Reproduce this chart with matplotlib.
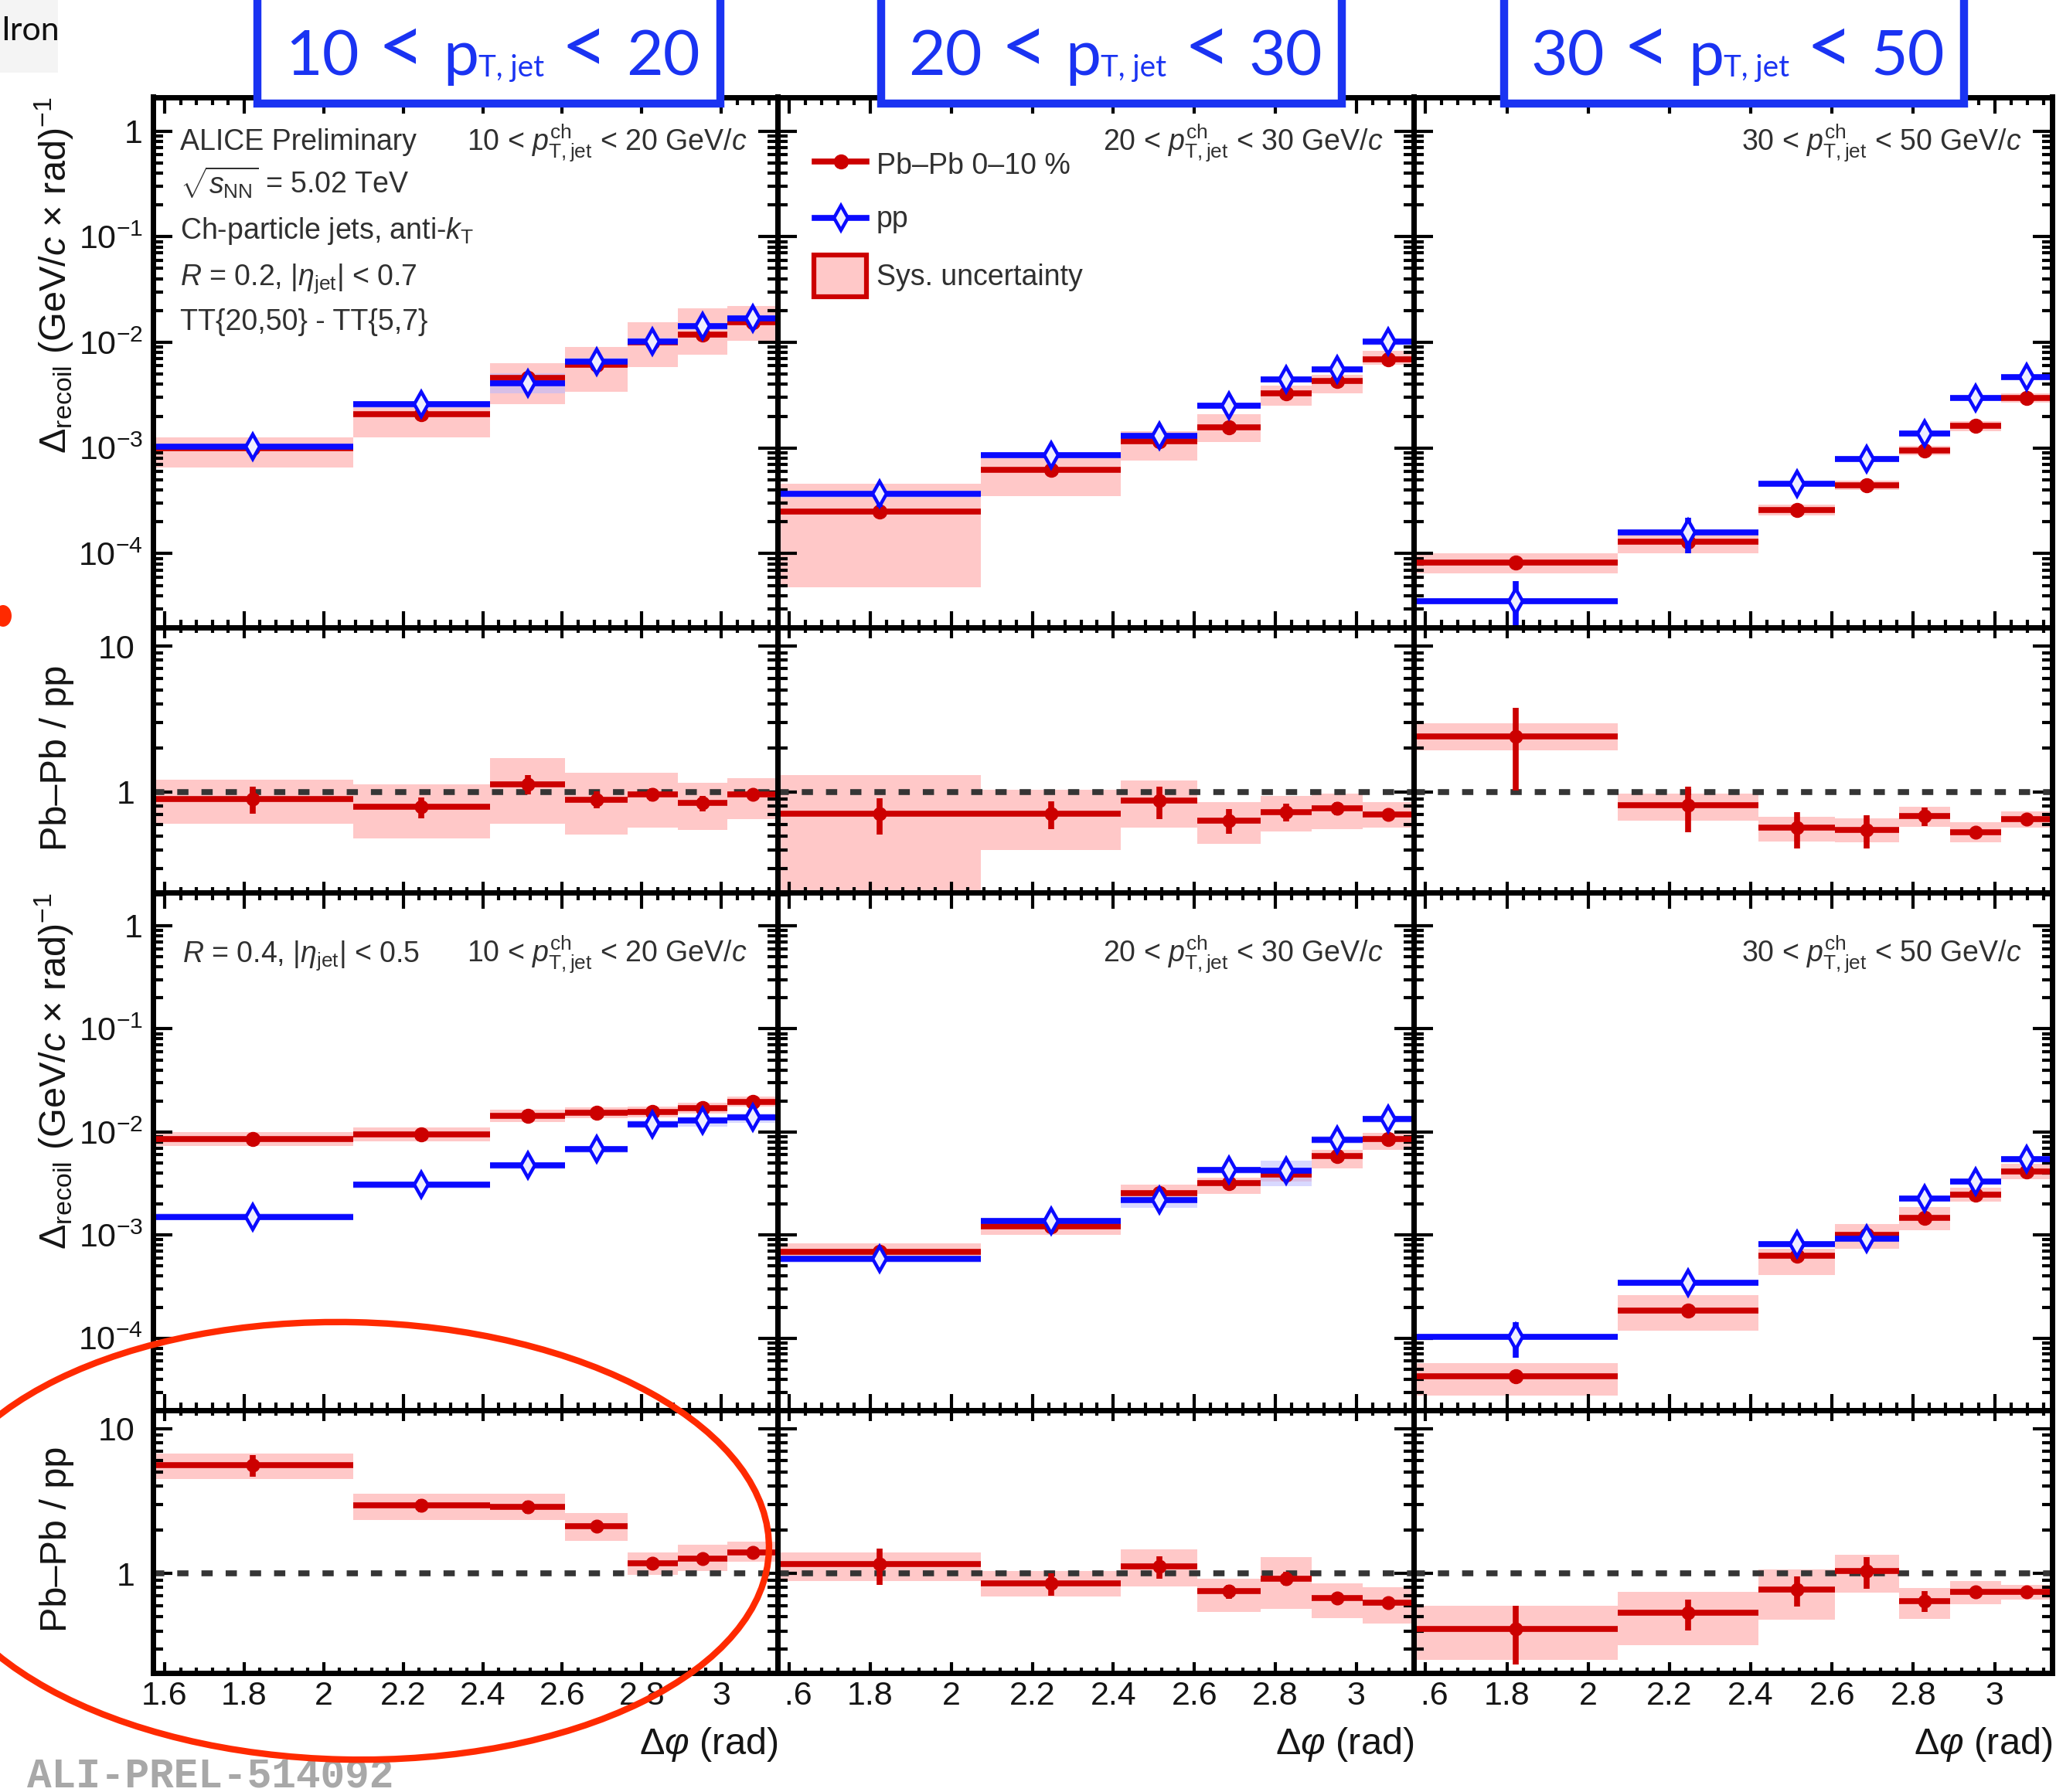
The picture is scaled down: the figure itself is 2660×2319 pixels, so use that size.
import numpy as np
import matplotlib
matplotlib.use("Agg")
import matplotlib.pyplot as plt
from matplotlib.patches import Rectangle, Ellipse
from matplotlib.lines import Line2D
from matplotlib.transforms import Bbox, blended_transform_factory
from matplotlib.ticker import FixedLocator, FixedFormatter, MultipleLocator, NullFormatter, LogLocator

plt.rcParams['font.family'] = ['Liberation Sans', 'DejaVu Sans']
plt.rcParams['mathtext.fontset'] = 'custom'
plt.rcParams['mathtext.rm'] = 'Liberation Sans'
plt.rcParams['mathtext.it'] = 'Liberation Sans:italic'
plt.rcParams['mathtext.bf'] = 'Liberation Sans:bold'
plt.rcParams['mathtext.sf'] = 'Liberation Sans'

# ---------------------------------------------------------------- data
# delta-phi bin edges in units of pi
dphi_edges_over_pi = [0.5, 0.66, 0.77, 0.83, 0.88, 0.92, 0.96, 1.0]
pt_ranges = [(10, 20), (20, 30), (30, 50)]
xtick_values = [1.6, 1.8, 2.0, 2.2, 2.4, 2.6, 2.8, 3.0]
xtick_labels = ['1.6', '1.8', '2', '2.2', '2.4', '2.6', '2.8', '3']
main_ytick_values = [1e-4, 1e-3, 1e-2, 1e-1, 1.0]
main_ytick_labels = [r'$10^{-4}$', r'$10^{-3}$', r'$10^{-2}$', r'$10^{-1}$', '1']
ratio_ytick_values = [1.0, 10.0]
ratio_ytick_labels = ['1', '10']

# ---- R = 0.2, 10-20 GeV/c
pbpb_r02_pt1 = [1.00e-3, 2.1e-3, 4.6e-3, 6.1e-3, 1.0e-2, 1.18e-2, 1.55e-2]
pbpb_r02_pt1_stat = [4e-5, 1e-4, 3e-4, 3e-4, 4e-4, 5e-4, 7e-4]
pbpb_r02_pt1_sys_lo = [6.5e-4, 1.25e-3, 2.6e-3, 3.4e-3, 5.8e-3, 7.6e-3, 1.03e-2]
pbpb_r02_pt1_sys_hi = [1.25e-3, 2.6e-3, 6.3e-3, 9.1e-3, 1.55e-2, 2.1e-2, 2.2e-2]
pp_r02_pt1 = [1.03e-3, 2.6e-3, 4.1e-3, 6.6e-3, 1.02e-2, 1.42e-2, 1.68e-2]
pp_r02_pt1_stat = [5e-5, 2e-4, 4e-4, 5e-4, 6e-4, 8e-4, 1e-3]
pp_r02_pt1_sys_lo = [0.95e-3, 2.4e-3, 3.3e-3, 6.1e-3, 9.4e-3, 1.31e-2, 1.55e-2]
pp_r02_pt1_sys_hi = [1.11e-3, 2.8e-3, 5.1e-3, 7.1e-3, 1.1e-2, 1.53e-2, 1.81e-2]
ratio_r02_pt1 = [0.90, 0.79, 1.13, 0.89, 0.96, 0.84, 0.96]
ratio_r02_pt1_stat = [0.19, 0.13, 0.17, 0.12, 0.10, 0.10, 0.08]
ratio_r02_pt1_sys_lo = [0.61, 0.48, 0.61, 0.51, 0.57, 0.55, 0.65]
ratio_r02_pt1_sys_hi = [1.22, 1.13, 1.70, 1.35, 1.35, 1.15, 1.25]

# ---- R = 0.2, 20-30 GeV/c
pbpb_r02_pt2 = [2.49e-4, 6.2e-4, 1.16e-3, 1.57e-3, 3.27e-3, 4.28e-3, 6.95e-3]
pbpb_r02_pt2_stat = [2e-5, 4e-5, 6e-5, 8e-5, 1.5e-4, 2e-4, 3e-4]
pbpb_r02_pt2_sys_lo = [4.8e-5, 3.5e-4, 7.6e-4, 1.13e-3, 2.5e-3, 3.27e-3, 6.1e-3]
pbpb_r02_pt2_sys_hi = [4.6e-4, 9.0e-4, 1.45e-3, 2.1e-3, 3.9e-3, 4.9e-3, 8.3e-3]
pp_r02_pt2 = [3.66e-4, 8.6e-4, 1.31e-3, 2.5e-3, 4.46e-3, 5.57e-3, 1.01e-2]
pp_r02_pt2_stat = [9e-5, 8e-5, 1.0e-4, 1.5e-4, 3e-4, 4e-4, 6e-4]
pp_r02_pt2_sys_lo = [3.4e-4, 8.0e-4, 1.22e-3, 2.33e-3, 4.15e-3, 5.2e-3, 9.4e-3]
pp_r02_pt2_sys_hi = [3.9e-4, 9.2e-4, 1.40e-3, 2.68e-3, 4.77e-3, 5.96e-3, 1.08e-2]
ratio_r02_pt2 = [0.71, 0.71, 0.875, 0.64, 0.73, 0.775, 0.70]
ratio_r02_pt2_stat = [0.20, 0.155, 0.22, 0.12, 0.10, 0.08, 0.06]
ratio_r02_pt2_sys_lo = [0.15, 0.40, 0.57, 0.44, 0.54, 0.56, 0.57]
ratio_r02_pt2_sys_hi = [1.30, 1.04, 1.20, 0.85, 0.94, 0.98, 0.85]

# ---- R = 0.2, 30-50 GeV/c
pbpb_r02_pt3 = [8.2e-5, 1.30e-4, 2.6e-4, 4.43e-4, 9.4e-4, 1.61e-3, 2.99e-3]
pbpb_r02_pt3_stat = [6e-6, 1.2e-5, 2e-5, 3e-5, 6e-5, 1e-4, 1.6e-4]
pbpb_r02_pt3_sys_lo = [6.5e-5, 1.0e-4, 2.3e-4, 4.0e-4, 8.5e-4, 1.45e-3, 2.7e-3]
pbpb_r02_pt3_sys_hi = [1.0e-4, 1.6e-4, 2.9e-4, 4.9e-4, 1.04e-3, 1.78e-3, 3.3e-3]
pp_r02_pt3 = [3.53e-5, 1.6e-4, 4.56e-4, 7.9e-4, 1.38e-3, 2.99e-3, 4.66e-3]
pp_r02_pt3_stat = [2.0e-5, 0.6e-4, 0.6e-4, 0.8e-4, 1.3e-4, 2.5e-4, 4e-4]
pp_r02_pt3_sys_lo = [3.3e-5, 1.5e-4, 4.3e-4, 7.4e-4, 1.3e-3, 2.8e-3, 4.4e-3]
pp_r02_pt3_sys_hi = [3.8e-5, 1.7e-4, 4.8e-4, 8.4e-4, 1.46e-3, 3.2e-3, 4.9e-3]
ratio_r02_pt3 = [2.41, 0.81, 0.57, 0.55, 0.687, 0.53, 0.654]
ratio_r02_pt3_stat = [1.38, 0.28, 0.16, 0.14, 0.10, 0.05, 0.06]
ratio_r02_pt3_sys_lo = [1.93, 0.64, 0.46, 0.45, 0.58, 0.45, 0.57]
ratio_r02_pt3_sys_hi = [2.97, 0.98, 0.68, 0.66, 0.79, 0.62, 0.74]

# ---- R = 0.4, 10-20 GeV/c
pbpb_r04_pt1 = [8.5e-3, 9.4e-3, 1.44e-2, 1.53e-2, 1.56e-2, 1.71e-2, 1.96e-2]
pbpb_r04_pt1_stat = [3e-4, 3e-4, 5e-4, 5e-4, 5e-4, 6e-4, 7e-4]
pbpb_r04_pt1_sys_lo = [7.3e-3, 8.1e-3, 1.25e-2, 1.35e-2, 1.38e-2, 1.52e-2, 1.75e-2]
pbpb_r04_pt1_sys_hi = [1.0e-2, 1.1e-2, 1.65e-2, 1.73e-2, 1.76e-2, 1.92e-2, 2.2e-2]
pp_r04_pt1 = [1.50e-3, 3.08e-3, 4.72e-3, 6.8e-3, 1.19e-2, 1.29e-2, 1.39e-2]
pp_r04_pt1_stat = [8e-5, 2e-4, 3e-4, 4e-4, 5e-4, 6e-4, 7e-4]
pp_r04_pt1_sys_lo = [1.39e-3, 2.85e-3, 4.35e-3, 6.3e-3, 1.08e-2, 1.13e-2, 1.22e-2]
pp_r04_pt1_sys_hi = [1.62e-3, 3.32e-3, 5.1e-3, 7.3e-3, 1.3e-2, 1.4e-2, 1.5e-2]
ratio_r04_pt1 = [5.59, 2.94, 2.88, 2.11, 1.17, 1.26, 1.40]
ratio_r04_pt1_stat = [0.95, 0.30, 0.30, 0.20, 0.10, 0.12, 0.12]
ratio_r04_pt1_sys_lo = [4.48, 2.34, 2.34, 1.68, 0.98, 1.04, 1.20]
ratio_r04_pt1_sys_hi = [6.74, 3.54, 3.54, 2.62, 1.39, 1.58, 1.65]

# ---- R = 0.4, 20-30 GeV/c
pbpb_r04_pt2 = [6.85e-4, 1.22e-3, 2.54e-3, 3.2e-3, 3.86e-3, 5.81e-3, 8.5e-3]
pbpb_r04_pt2_stat = [4e-5, 6e-5, 1.5e-4, 1.5e-4, 2e-4, 3e-4, 4e-4]
pbpb_r04_pt2_sys_lo = [5.7e-4, 1.0e-3, 2.1e-3, 2.5e-3, 3.3e-3, 4.4e-3, 6.7e-3]
pbpb_r04_pt2_sys_hi = [8.3e-4, 1.43e-3, 3.1e-3, 3.6e-3, 4.4e-3, 6.7e-3, 9.8e-3]
pp_r04_pt2 = [5.86e-4, 1.37e-3, 2.18e-3, 4.26e-3, 4.19e-3, 8.4e-3, 1.33e-2]
pp_r04_pt2_stat = [6e-5, 1e-4, 1.5e-4, 2.5e-4, 3e-4, 5e-4, 7e-4]
pp_r04_pt2_sys_lo = [5.4e-4, 1.26e-3, 1.85e-3, 3.9e-3, 3.0e-3, 7.7e-3, 1.22e-2]
pp_r04_pt2_sys_hi = [6.3e-4, 1.48e-3, 2.5e-3, 4.6e-3, 5.3e-3, 9.1e-3, 1.44e-2]
ratio_r04_pt2 = [1.155, 0.854, 1.12, 0.75, 0.92, 0.674, 0.628]
ratio_r04_pt2_stat = [0.32, 0.15, 0.20, 0.08, 0.10, 0.05, 0.05]
ratio_r04_pt2_sys_lo = [0.88, 0.69, 0.81, 0.54, 0.57, 0.49, 0.45]
ratio_r04_pt2_sys_hi = [1.39, 1.04, 1.46, 0.92, 1.29, 0.85, 0.80]

# ---- R = 0.4, 30-50 GeV/c
pbpb_r04_pt3 = [4.27e-5, 1.85e-4, 6.34e-4, 1.0e-3, 1.48e-3, 2.45e-3, 4.13e-3]
pbpb_r04_pt3_stat = [5e-6, 1.5e-5, 5e-5, 8e-5, 1e-4, 1.5e-4, 2.5e-4]
pbpb_r04_pt3_sys_lo = [2.8e-5, 1.18e-4, 4.1e-4, 7.4e-4, 1.12e-3, 2.1e-3, 3.5e-3]
pbpb_r04_pt3_sys_hi = [5.7e-5, 2.6e-4, 7.4e-4, 1.27e-3, 1.87e-3, 2.9e-3, 4.9e-3]
pp_r04_pt3 = [1.035e-4, 3.42e-4, 8.17e-4, 9.3e-4, 2.26e-3, 3.33e-3, 5.5e-3]
pp_r04_pt3_stat = [3.9e-5, 3.5e-5, 8e-5, 9e-5, 1.5e-4, 2e-4, 3e-4]
pp_r04_pt3_sys_lo = [9.7e-5, 3.2e-4, 7.7e-4, 8.7e-4, 2.12e-3, 3.13e-3, 5.2e-3]
pp_r04_pt3_sys_hi = [1.1e-4, 3.63e-4, 8.7e-4, 9.9e-4, 2.4e-3, 3.53e-3, 5.8e-3]
ratio_r04_pt3 = [0.415, 0.532, 0.773, 1.04, 0.647, 0.748, 0.745]
ratio_r04_pt3_stat = [0.18, 0.13, 0.18, 0.26, 0.105, 0.06, 0.05]
ratio_r04_pt3_sys_lo = [0.254, 0.32, 0.476, 0.735, 0.484, 0.61, 0.66]
ratio_r04_pt3_sys_hi = [0.595, 0.748, 1.07, 1.35, 0.795, 0.88, 0.83]

# ---------------------------------------------------------------- style
W, H = 2660, 2319
RED = '#cc0000'
BLUE = '#0a0aff'
PINK = '#ffc8c8'
LBLUE = '#b8b8ff'
TXT = '#303030'
HBLUE = '#1a33f2'

fig = plt.figure(figsize=(W / 100, H / 100), dpi=100)
fig.patch.set_facecolor('white')


def fx(x):
    return x / W


def fy(y):
    return 1 - y / H


COLS = [(198, 1006), (1006, 1829), (1829, 2655)]
ROWS = [(125.5, 812), (812, 1155), (1155, 1825), (1825, 2165)]
MAIN_YLIM = (2e-5, 2.1)
RATIO_YLIM = (0.205, 13.4)

edges = np.pi * np.array(dphi_edges_over_pi)
centers = 0.5 * (edges[1:] + edges[:-1])
widths = np.diff(edges)
halfw = widths / 2


def add_ax(col, row):
    x0, x1 = COLS[col]
    y0, y1 = ROWS[row]
    return fig.add_axes([fx(x0), fy(y1), (x1 - x0) / W, (y1 - y0) / H])


def style(ax, is_main, first_col):
    ax.set_xlim(np.pi / 2, np.pi)
    ax.set_yscale('log')
    ax.set_ylim(*(MAIN_YLIM if is_main else RATIO_YLIM))
    ax.xaxis.set_major_locator(MultipleLocator(0.2))
    ax.xaxis.set_minor_locator(MultipleLocator(0.04))
    if is_main:
        ax.yaxis.set_major_locator(FixedLocator(main_ytick_values))
        ax.yaxis.set_major_formatter(FixedFormatter(main_ytick_labels))
    else:
        ax.yaxis.set_major_locator(FixedLocator(ratio_ytick_values))
        ax.yaxis.set_major_formatter(FixedFormatter(ratio_ytick_labels))
    ax.yaxis.set_minor_locator(LogLocator(base=10, subs=np.arange(2, 10) * 1.0, numticks=50))
    ax.yaxis.set_minor_formatter(NullFormatter())
    ax.tick_params(which='both', direction='in', top=True, right=True, bottom=True, left=True,
                   labelbottom=False, labelleft=first_col, width=3, color='black',
                   labelsize=31, labelcolor='#151515')
    ax.tick_params(axis='y', which='major', length=18, pad=9.4 if is_main else 17)
    ax.tick_params(axis='y', which='minor', length=9.4)
    if is_main:
        ax.tick_params(axis='x', which='major', length=15)
        ax.tick_params(axis='x', which='minor', length=7.5)
    else:
        ax.tick_params(axis='x', which='major', length=10)
        ax.tick_params(axis='x', which='minor', length=5)
    for s in ax.spines.values():
        s.set_linewidth(5)
        s.set_zorder(6)


def draw_main(ax, pb, pb_stat, pb_lo, pb_hi, pp, pp_stat, pp_lo, pp_hi):
    ax.bar(centers, np.subtract(pb_hi, pb_lo), bottom=pb_lo, width=widths,
           color=PINK, lw=0, zorder=1)
    ax.bar(centers, np.subtract(pp_hi, pp_lo), bottom=pp_lo, width=widths,
           color=LBLUE, alpha=0.55, lw=0, zorder=1.2)
    ax.errorbar(centers, pb, xerr=halfw, yerr=pb_stat, fmt='o', color=RED, ms=13,
                elinewidth=5.5, capsize=0, zorder=3)
    ax.errorbar(centers, pp, xerr=halfw, yerr=pp_stat, fmt='d', color=BLUE, mfc='#eeeeff',
                mec=BLUE, mew=3.2, ms=16, elinewidth=5.5, capsize=0, zorder=4)


def draw_ratio(ax, r, r_stat, r_lo, r_hi):
    ax.bar(centers, np.subtract(r_hi, r_lo), bottom=r_lo, width=widths,
           color=PINK, lw=0, zorder=1)
    ax.axhline(1.0, color='#353535', lw=5.5, ls=(0, (1.9, 2.2)), zorder=2)
    ax.errorbar(centers, r, xerr=halfw, yerr=r_stat, fmt='o', color=RED, ms=12,
                elinewidth=5.5, capsize=0, zorder=3)


main_sets = [
    [(pbpb_r02_pt1, pbpb_r02_pt1_stat, pbpb_r02_pt1_sys_lo, pbpb_r02_pt1_sys_hi,
      pp_r02_pt1, pp_r02_pt1_stat, pp_r02_pt1_sys_lo, pp_r02_pt1_sys_hi),
     (pbpb_r02_pt2, pbpb_r02_pt2_stat, pbpb_r02_pt2_sys_lo, pbpb_r02_pt2_sys_hi,
      pp_r02_pt2, pp_r02_pt2_stat, pp_r02_pt2_sys_lo, pp_r02_pt2_sys_hi),
     (pbpb_r02_pt3, pbpb_r02_pt3_stat, pbpb_r02_pt3_sys_lo, pbpb_r02_pt3_sys_hi,
      pp_r02_pt3, pp_r02_pt3_stat, pp_r02_pt3_sys_lo, pp_r02_pt3_sys_hi)],
    [(pbpb_r04_pt1, pbpb_r04_pt1_stat, pbpb_r04_pt1_sys_lo, pbpb_r04_pt1_sys_hi,
      pp_r04_pt1, pp_r04_pt1_stat, pp_r04_pt1_sys_lo, pp_r04_pt1_sys_hi),
     (pbpb_r04_pt2, pbpb_r04_pt2_stat, pbpb_r04_pt2_sys_lo, pbpb_r04_pt2_sys_hi,
      pp_r04_pt2, pp_r04_pt2_stat, pp_r04_pt2_sys_lo, pp_r04_pt2_sys_hi),
     (pbpb_r04_pt3, pbpb_r04_pt3_stat, pbpb_r04_pt3_sys_lo, pbpb_r04_pt3_sys_hi,
      pp_r04_pt3, pp_r04_pt3_stat, pp_r04_pt3_sys_lo, pp_r04_pt3_sys_hi)],
]
ratio_sets = [
    [(ratio_r02_pt1, ratio_r02_pt1_stat, ratio_r02_pt1_sys_lo, ratio_r02_pt1_sys_hi),
     (ratio_r02_pt2, ratio_r02_pt2_stat, ratio_r02_pt2_sys_lo, ratio_r02_pt2_sys_hi),
     (ratio_r02_pt3, ratio_r02_pt3_stat, ratio_r02_pt3_sys_lo, ratio_r02_pt3_sys_hi)],
    [(ratio_r04_pt1, ratio_r04_pt1_stat, ratio_r04_pt1_sys_lo, ratio_r04_pt1_sys_hi),
     (ratio_r04_pt2, ratio_r04_pt2_stat, ratio_r04_pt2_sys_lo, ratio_r04_pt2_sys_hi),
     (ratio_r04_pt3, ratio_r04_pt3_stat, ratio_r04_pt3_sys_lo, ratio_r04_pt3_sys_hi)],
]

bottom_axes = []
for rr in range(2):
    for c in range(3):
        axm = add_ax(c, 2 * rr)
        style(axm, True, c == 0)
        draw_main(axm, *main_sets[rr][c])
        axr = add_ax(c, 2 * rr + 1)
        style(axr, False, c == 0)
        draw_ratio(axr, *ratio_sets[rr][c])
        if rr == 1:
            bottom_axes.append(axr)

# x tick labels on the bottom ratio row; columns 2 and 3 cut them at their left frame
for c, ax in enumerate(bottom_axes):
    tr = blended_transform_factory(ax.transData, fig.transFigure)
    clip = Bbox.from_extents(0 if c == 0 else COLS[c][0] + 8, 0, W, H)
    for v, lab in zip(xtick_values, xtick_labels):
        t = fig.text(v, fy(2175), lab, transform=tr, ha='center', va='top',
                     fontsize=31, color='#151515')
        t.set_clip_on(True)
        t.set_clip_box(clip)
    fig.text(fx(COLS[c][1]), fy(2258), r'$\Delta\varphi$ (rad)', ha='right', va='center',
             fontsize=35, color='#151515')

# y axis titles
ytitle_main = r'$\Delta_{\mathrm{recoil}}$ (GeV/$c$ $\times$ rad)$^{-1}$'
for top in (ROWS[0][0], ROWS[2][0]):
    fig.text(fx(70), fy(top), ytitle_main, rotation=90, ha='center', va='top',
             fontsize=35, color='#151515')
for (y0, y1) in (ROWS[1], ROWS[3]):
    fig.text(fx(74), fy((y0 + y1) / 2 - 3), 'Pb–Pb / pp', rotation=90, ha='center',
             va='center', fontsize=35, color='#151515')

# in-panel annotations
left_lines = [
    ('ALICE Preliminary', 194),
    (r'$\sqrt{s_{\mathrm{NN}}}$ = 5.02 TeV', 251),
    (r'Ch-particle jets, anti-$k_{\mathrm{T}}$', 309),
    (r'$R$ = 0.2, $|\eta_{\mathrm{jet}}|$ < 0.7', 369),
    ('TT{20,50} - TT{5,7}', 427),
]
for s, yb in left_lines:
    fig.text(fx(233), fy(yb), s, ha='left', va='baseline', fontsize=27, color=TXT)
fig.text(fx(236), fy(1245), r'$R$ = 0.4, $|\eta_{\mathrm{jet}}|$ < 0.5', ha='left',
         va='baseline', fontsize=27, color=TXT)
for c, (lo, hi) in enumerate(pt_ranges):
    lab = rf'{lo} < $p_{{\mathrm{{T,jet}}}}^{{\mathrm{{ch}}}}$ < {hi} GeV/$c$'
    for yb in (194, 1245):
        fig.text(fx(COLS[c][1] - 40), fy(yb), lab, ha='right', va='baseline',
                 fontsize=27, color=TXT)

# legend
lx0, lx1 = 1054, 1121
lxc = 0.5 * (lx0 + lx1)
fig.add_artist(Line2D([fx(lx0), fx(lx1)], [fy(209), fy(209)], transform=fig.transFigure,
                      color=RED, lw=5.5, zorder=7))
fig.add_artist(Line2D([fx(lxc)], [fy(209)], transform=fig.transFigure, color=RED,
                      marker='o', ms=13, lw=0, zorder=7))
fig.add_artist(Line2D([fx(lx0), fx(lx1)], [fy(282), fy(282)], transform=fig.transFigure,
                      color=BLUE, lw=5.5, zorder=7))
fig.add_artist(Line2D([fx(lxc)], [fy(282)], transform=fig.transFigure, color=BLUE,
                      marker='d', ms=16, mfc='#eeeeff', mec=BLUE, mew=3.2, lw=0, zorder=8))
fig.add_artist(Rectangle((fx(1053), fy(384)), 68 / W, 54 / H, transform=fig.transFigure,
                         fc=PINK, ec=RED, lw=4.5, zorder=7))
fig.text(fx(1134), fy(225), 'Pb–Pb 0–10 %', ha='left', va='baseline', fontsize=27, color=TXT)
fig.text(fx(1134), fy(294), 'pp', ha='left', va='baseline', fontsize=27, color=TXT)
fig.text(fx(1134), fy(369), 'Sys. uncertainty', ha='left', va='baseline', fontsize=27,
         color=TXT)

# headline boxes above each column
renderer = fig.canvas.get_renderer()
boxes = [(328, 937), (1135, 1741), (1941, 2546)]
HEAD_WIDTH = 535.0
for (bx0, bx1), (lo, hi) in zip(boxes, pt_ranges):
    fig.add_artist(Rectangle((fx(bx0 + 5), fy(134)), (bx1 - bx0 - 10) / W, 300 / H,
                             transform=fig.transFigure, fc='white', ec=HBLUE, lw=7.5,
                             zorder=20))
    pieces = [(str(lo), 66, 0), ('<', 84, -2), ('p', 66, 0), ('T, jet', 31, 2),
              ('<', 84, -2), (str(hi), 66, 0)]
    gaps = [26, 26, 0, 24, 26]
    objs = []
    for s, size, dy in pieces:
        t = fig.text(0, fy(97 + dy), s, fontsize=size, family=['Lato', 'DejaVu Sans'],
                     color=HBLUE, ha='left', va='baseline', zorder=21)
        objs.append(t)
    wids = [t.get_window_extent(renderer).width for t in objs]
    k = HEAD_WIDTH / (sum(wids) + sum(gaps))
    for t, (s, size, dy) in zip(objs, pieces):
        t.set_fontsize(size * k)
    wids = [t.get_window_extent(renderer).width for t in objs]
    gaps = [g * k for g in gaps]
    total = sum(wids) + sum(gaps)
    x = 0.5 * (bx0 + bx1) + 5 - total / 2
    for i, t in enumerate(objs):
        t.set_x(fx(x))
        x += wids[i] + (gaps[i] if i < len(gaps) else 0)

# corner fragment of a neighbouring label
fig.add_artist(Rectangle((0, fy(94)), 75 / W, 94 / H, transform=fig.transFigure,
                         fc='#f4f4f4', ec='none', zorder=0.5))
fig.text(fx(1), fy(52), 'Iron', fontsize=31, family=['Lato', 'DejaVu Sans'],
         color='#111111', ha='left', va='baseline', zorder=21)

# hand-drawn highlight
fig.add_artist(Ellipse((fx(452), fy(1994)), 1086 / W, 566 / H, angle=-1.5,
                       transform=fig.transFigure, fc='none', ec='#ff2a00', lw=6,
                       zorder=30))
fig.add_artist(Ellipse((fx(4), fy(797)), 22 / W, 28 / H, transform=fig.transFigure,
                       fc='#ff2a00', ec='none', zorder=30))

# preliminary figure number
fig.text(fx(35), fy(2313), 'ALI-PREL-514092', family=['Liberation Mono', 'DejaVu Sans Mono'],
         weight='bold', fontsize=38, color='#a8a8a8', ha='left', va='baseline')

fig.savefig('out.png', dpi=100, facecolor='white')
